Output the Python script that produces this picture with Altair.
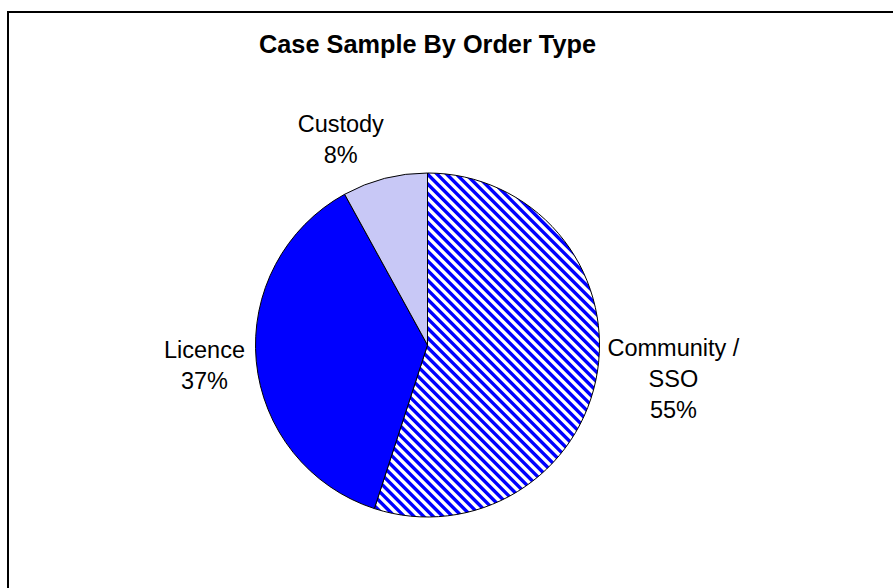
import math
import altair as alt
import pandas as pd

# ---------------- data ----------------
title_text = "Case Sample By Order Type"
categories = ["Community / SSO", "Licence", "Custody"]
label_lines = [["Community /", "SSO"], ["Licence"], ["Custody"]]
values = [55, 37, 8]

# ---------------- style ----------------
W, H = 893, 588
CX, CY, R = 427.5, 345, 172
BLUE = "#0000FF"
FONT = "Liberation Sans"
LABEL_STYLE = {
    "Community / SSO": dict(radius=249, dx=0, dy=-35),
    "Licence": dict(radius=224, dx=0, dy=-15),
    "Custody": dict(radius=204, dx=-36, dy=-22),
}

total = sum(values)
df = pd.DataFrame({
    "order": list(range(len(categories))),
    "category": categories,
    "value": values,
    "label": [lines + [f"{v}%"] for lines, v in zip(label_lines, values)],
})


def slice_bbox(a0, a1):
    pts = [(CX, CY)]
    angs = [a0, a1] + [k * math.pi / 2 for k in range(5) if a0 < k * math.pi / 2 < a1]
    for a in angs:
        pts.append((CX + R * math.sin(a), CY - R * math.cos(a)))
    xs = [p[0] for p in pts]
    ys = [p[1] for p in pts]
    return min(xs), min(ys), max(xs) - min(xs), max(ys) - min(ys)


def stripe_gradient(a0, a1, period=6.8):
    # 45-degree "\" stripes, blue on white, in objectBoundingBox units
    _, _, w, h = slice_bbox(a0, a1)
    g = (1.0 / h, -1.0 / w)
    s = (1.0 / h + 1.0 / w) / (g[0] ** 2 + g[1] ** 2)
    L = (w + h) / math.sqrt(2)
    stops = []
    last = -1.0
    k = 0
    while k * period <= L + period:
        base = k * period
        for frac, col in [(0.0, BLUE), (0.36, BLUE), (0.5, "#ffffff"), (0.86, "#ffffff")]:
            o = min(max((base + frac * period) / L, 0.0), 1.0)
            if o >= last:
                stops.append(alt.GradientStop(color=col, offset=o))
                last = o
        k += 1
    return alt.LinearGradient(
        gradient="linear", stops=stops,
        x1=0, y1=1, x2=s * g[0], y2=1 + s * g[1],
    )


# slice angles (for the stripe texture geometry only)
angles = []
acc = 0
for v in values:
    angles.append((acc / total * 2 * math.pi, (acc + v) / total * 2 * math.pi))
    acc += v

fills = {
    "Community / SSO": stripe_gradient(*angles[0]),
    "Licence": BLUE,
    "Custody": "#c8c8f6",
}

theta_scale = alt.Scale(domain=[0, total])

base = alt.Chart(df).transform_window(
    cum="sum(value)", sort=[alt.SortField("order")], frame=[None, 0]
).transform_calculate(
    start="datum.cum - datum.value",
    mid="datum.cum - datum.value / 2",
)

layers = []

# border (cropped on right / bottom like the reference)
border = alt.Chart(alt.Data(values=[{"a": 1}])).mark_rect(
    fill="transparent", stroke="#000000", strokeWidth=2
).encode(
    x=alt.value(8), y=alt.value(12), x2=alt.value(W + 50), y2=alt.value(H + 50)
)
layers.append(border)

title = alt.Chart(alt.Data(values=[{"t": title_text}])).mark_text(
    font=FONT, fontSize=25.3, fontWeight="bold", color="#000000",
    align="center", baseline="alphabetic"
).encode(
    x=alt.value(CX), y=alt.value(53), text="t:N"
)
layers.append(title)

for cat in categories:
    arc = base.transform_filter(alt.datum.category == cat).mark_arc(
        fill=fills[cat], stroke="#000000", strokeWidth=1, radius=R
    ).encode(
        theta=alt.Theta("start:Q", scale=theta_scale),
        theta2="cum:Q",
        x=alt.value(CX), y=alt.value(CY),
    )
    layers.append(arc)

for cat in categories:
    st = LABEL_STYLE[cat]
    txt = base.transform_filter(alt.datum.category == cat).mark_text(
        font=FONT, fontSize=23.5, color="#000000", align="center",
        baseline="middle", lineHeight=31, dx=st["dx"], dy=st["dy"]
    ).encode(
        theta=alt.Theta("mid:Q", scale=theta_scale),
        radius=alt.value(st["radius"]),
        x=alt.value(CX), y=alt.value(CY),
        text="label",
    )
    layers.append(txt)

chart = alt.layer(*layers).properties(
    width=W, height=H, autosize="none", padding=0, background="#ffffff"
).configure_view(strokeWidth=0)

chart.save("out.html", embed_options={"renderer": "svg", "actions": False})
